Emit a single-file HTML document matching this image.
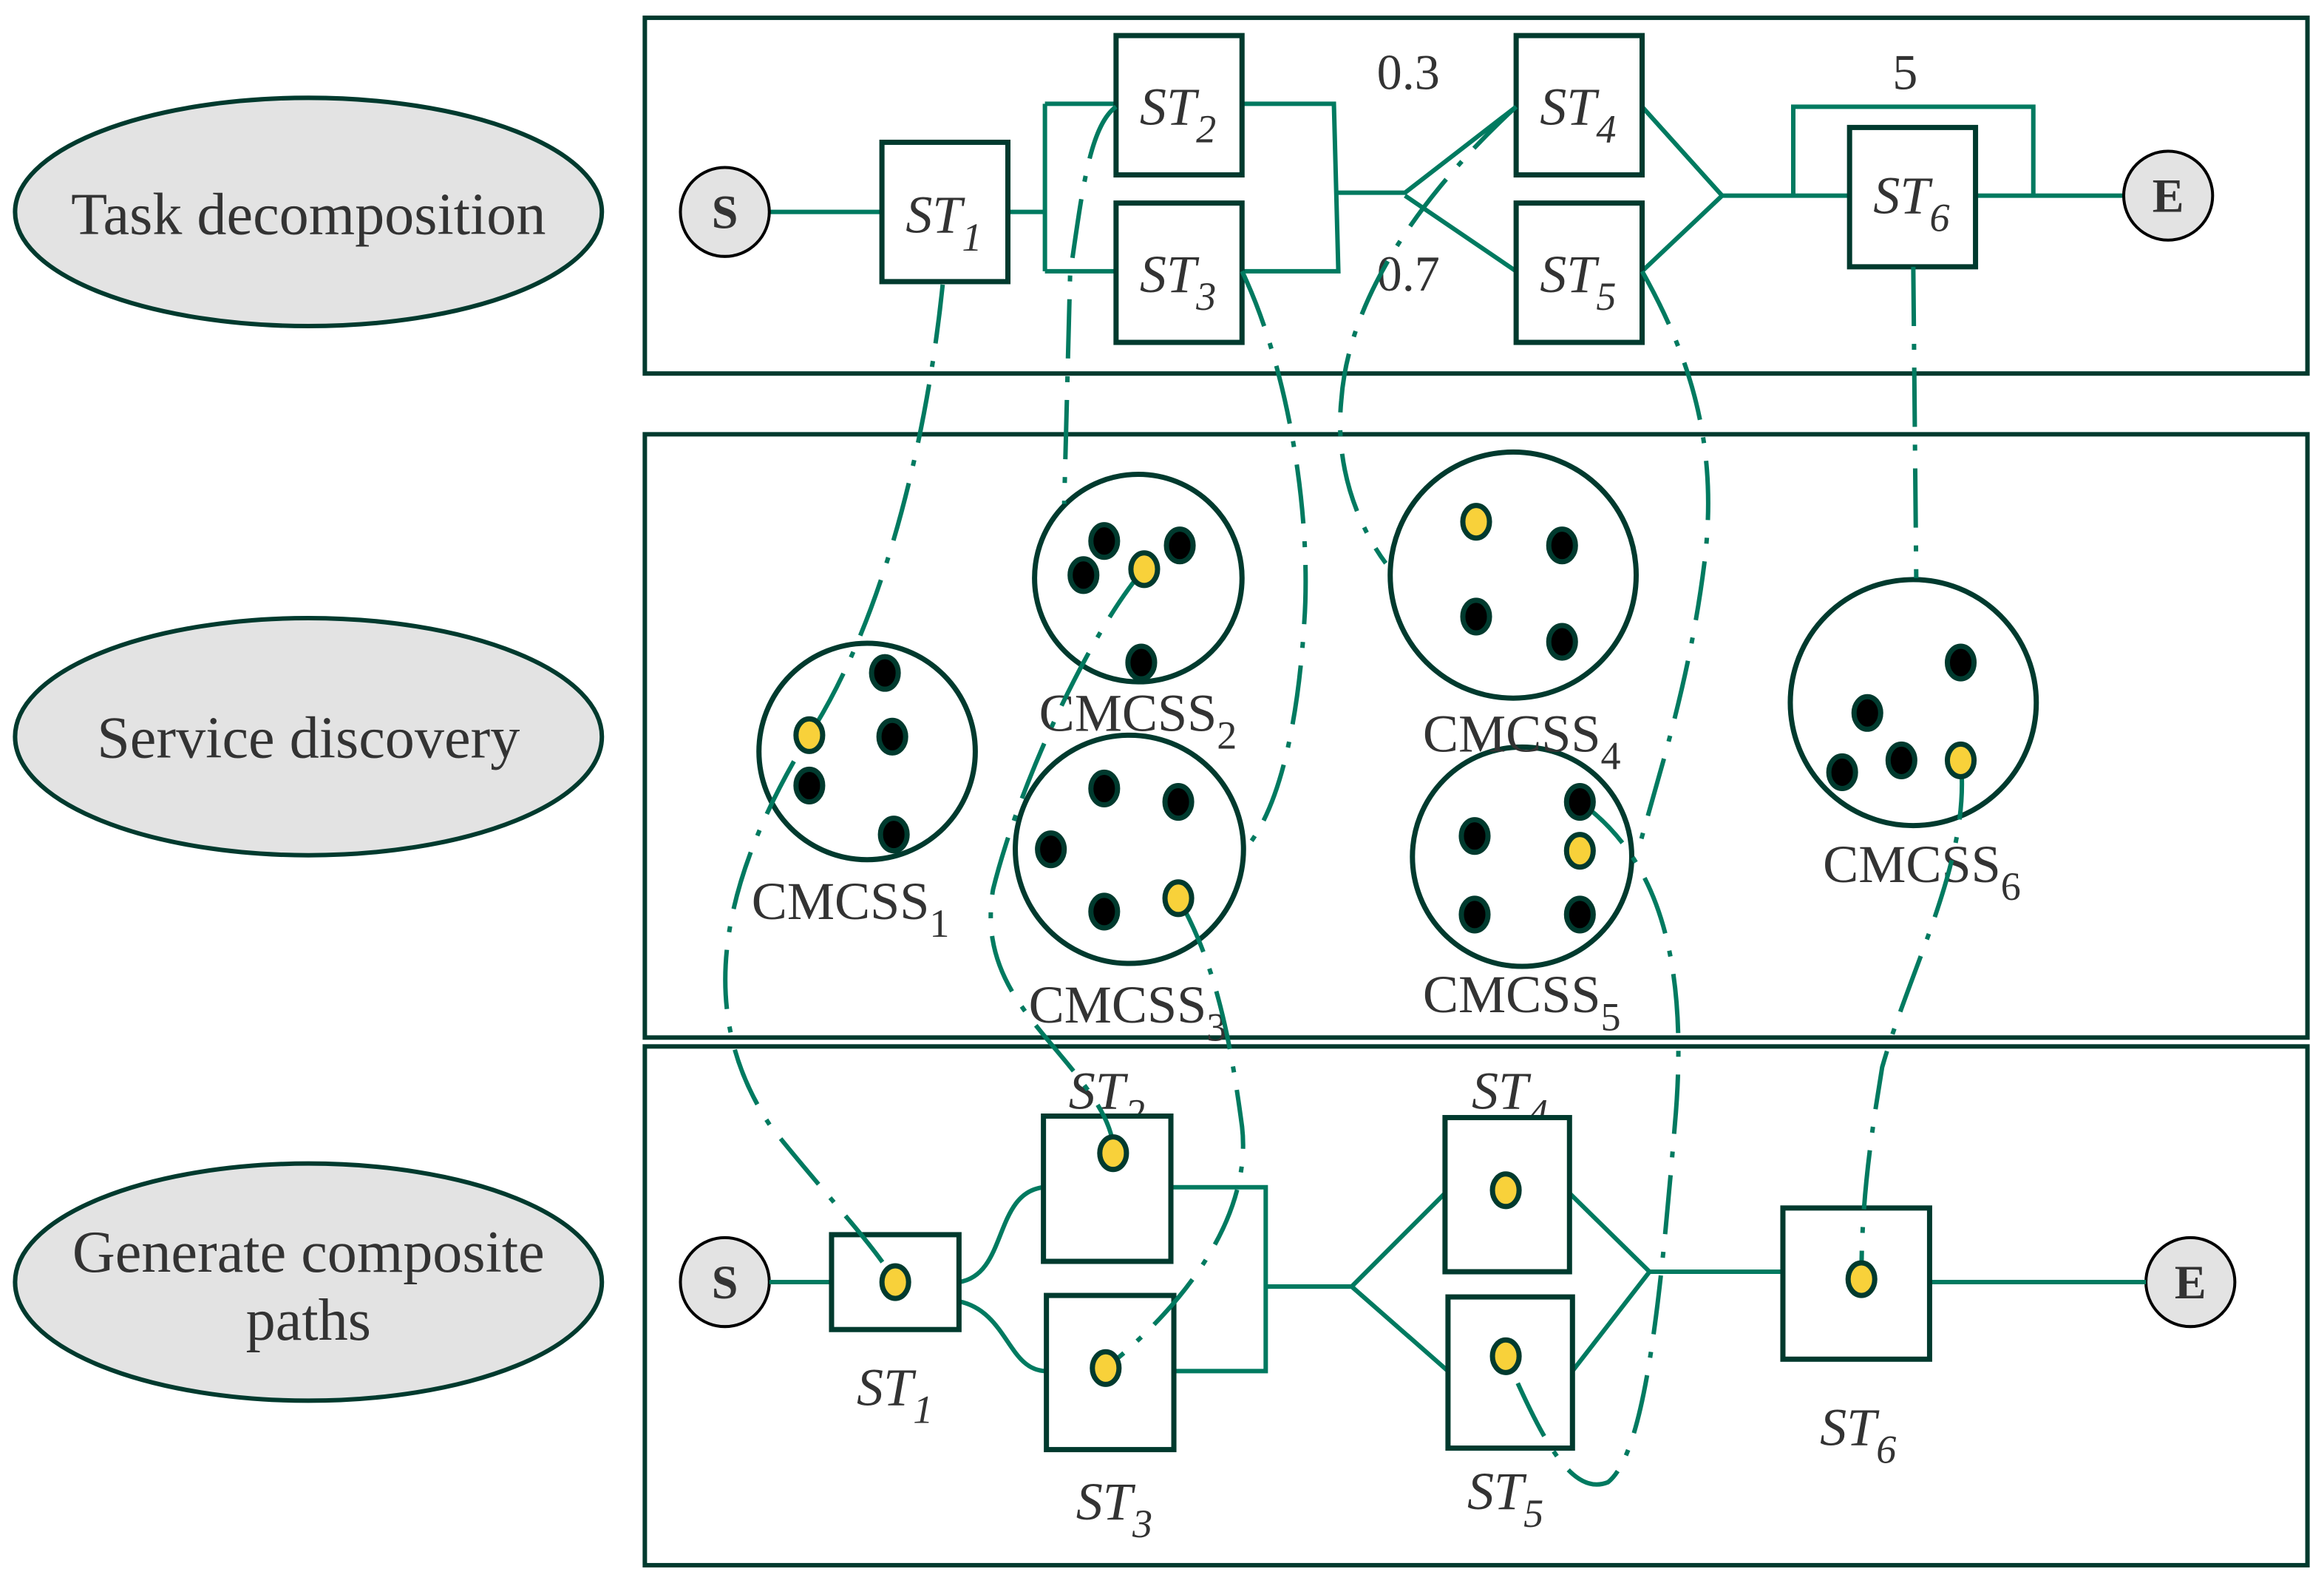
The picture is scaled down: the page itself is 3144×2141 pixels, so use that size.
<!DOCTYPE html>
<html><head><meta charset="utf-8"><style>
html,body{margin:0;padding:0;background:#fff;}
svg{display:block;}
text{font-family:"Liberation Serif",serif;fill:#333;}
.it{font-style:italic;}
</style></head><body>
<svg width="3144" height="2141" viewBox="0 0 1568 1068" xmlns="http://www.w3.org/2000/svg">
<g fill="#e3e3e3" stroke="#003a2e" stroke-width="3">
<ellipse cx="208" cy="143" rx="198" ry="77"/>
<ellipse cx="208" cy="497" rx="198" ry="80"/>
<ellipse cx="208" cy="865" rx="198" ry="80"/>
</g>
<g font-size="40" text-anchor="middle">
<text x="208" y="158">Task decomposition</text>
<text x="208" y="511">Service discovery</text>
<text x="208" y="858">Generate composite</text>
<text x="208" y="904">paths</text>
</g>
<g fill="none" stroke="#003a2e" stroke-width="3">
<rect x="435" y="12" width="1122" height="240"/>
<rect x="435" y="293" width="1122" height="407"/>
<rect x="435" y="706" width="1122" height="350"/>
</g>
<g fill="none" stroke="#007a60" stroke-width="3">
<path d="M519 143H595M680 143H705M705 70V183M705 70H753M705 183H753"/>
<path d="M838 70H900L903 183H838M902 130H948L1023 72M948 132L1023 183"/>
<path d="M1108 72L1162 132L1108 183M1162 132H1248M1210 132V72H1372V132M1333 132H1433"/>
</g>
<g fill="#fff" stroke="#003a2e" stroke-width="3.5">
<rect x="595" y="96" width="85" height="94"/>
<rect x="753" y="24" width="85" height="94"/>
<rect x="753" y="137" width="85" height="94"/>
<rect x="1023" y="24" width="85" height="94"/>
<rect x="1023" y="137" width="85" height="94"/>
<rect x="1248" y="86" width="85" height="94"/>
</g>
<g fill="#e3e3e3" stroke="#000" stroke-width="2">
<circle cx="489" cy="143" r="30"/><circle cx="1463" cy="132" r="30"/>
<circle cx="489" cy="865" r="30"/><circle cx="1478" cy="865" r="30"/>
</g>
<g font-size="32" font-weight="bold" text-anchor="middle" style="fill:#111">
<text x="489" y="154">S</text><text x="1463" y="143">E</text>
<text x="489" y="876">S</text><text x="1478" y="876">E</text>
</g>
<g font-size="36">
<text x="611" y="157" class="it">ST<tspan font-size="27" dy="12">1</tspan></text>
<text x="769" y="84" class="it">ST<tspan font-size="27" dy="12">2</tspan></text>
<text x="769" y="197" class="it">ST<tspan font-size="27" dy="12">3</tspan></text>
<text x="1039" y="84" class="it">ST<tspan font-size="27" dy="12">4</tspan></text>
<text x="1039" y="197" class="it">ST<tspan font-size="27" dy="12">5</tspan></text>
<text x="1264" y="144" class="it">ST<tspan font-size="27" dy="12">6</tspan></text>
<text x="721" y="748" class="it">ST<tspan font-size="27" dy="12">2</tspan></text>
<text x="578" y="948" class="it">ST<tspan font-size="27" dy="12">1</tspan></text>
<text x="726" y="1025" class="it">ST<tspan font-size="27" dy="12">3</tspan></text>
<text x="993" y="748" class="it">ST<tspan font-size="27" dy="12">4</tspan></text>
<text x="990" y="1018" class="it">ST<tspan font-size="27" dy="12">5</tspan></text>
<text x="1228" y="975" class="it">ST<tspan font-size="27" dy="12">6</tspan></text>
</g>
<g font-size="34">
<text x="929" y="60">0.3</text><text x="929" y="196">0.7</text><text x="1277" y="60">5</text>
</g>
<g fill="#fff" stroke="#003a2e" stroke-width="3.5">
<circle cx="585" cy="507" r="73"/><circle cx="768" cy="390" r="70"/>
<circle cx="762" cy="573" r="77"/><circle cx="1021" cy="388" r="83"/>
<circle cx="1027" cy="578" r="74"/><circle cx="1291" cy="474" r="83"/>
</g>
<g font-size="36">
<text x="507" y="620">CMCSS<tspan font-size="27" dy="12">1</tspan></text>
<text x="701" y="493">CMCSS<tspan font-size="27" dy="12">2</tspan></text>
<text x="694" y="690">CMCSS<tspan font-size="27" dy="12">3</tspan></text>
<text x="960" y="507">CMCSS<tspan font-size="27" dy="12">4</tspan></text>
<text x="960" y="683">CMCSS<tspan font-size="27" dy="12">5</tspan></text>
<text x="1230" y="595">CMCSS<tspan font-size="27" dy="12">6</tspan></text>
</g>
<g fill="none" stroke="#007a60" stroke-width="3">
<path d="M519 865H561M647 865C680 860 670 805 704 801M647 878C680 885 680 925 706 925"/>
<path d="M790 801H854V925H792M854 868H912L975 805M912 868L977 925"/>
<path d="M1059 805L1113 858L1061 925M1113 858H1203M1302 865H1448"/>
</g>
<g fill="#fff" stroke="#003a2e" stroke-width="3.5">
<rect x="561" y="833" width="86" height="64"/>
<rect x="704" y="753" width="86" height="98"/>
<rect x="706" y="874" width="86" height="104"/>
<rect x="975" y="754" width="84" height="104"/>
<rect x="977" y="875" width="84" height="102"/>
<rect x="1203" y="815" width="99" height="102"/>
</g>
<g fill="none" stroke="#007a60" stroke-width="3" stroke-dasharray="40,12,4,12">
<path d="M636 192C625 300 595 420 546 496C470 620 480 700 520 760C560 810 590 840 604 865"/>
<path d="M753 72C735 85 730 130 722 185L718 340"/>
<path d="M772 384C740 420 690 520 670 600C660 660 700 690 730 730C745 750 752 765 751 778"/>
<path d="M838 183C870 250 885 350 880 420C875 500 860 550 840 573"/>
<path d="M795 606C820 650 830 700 838 760C845 820 800 880 746 923"/>
<path d="M1023 72C960 130 910 200 905 270C900 320 920 360 935 380"/>
<path d="M1108 183C1140 240 1160 300 1150 380C1140 460 1120 520 1105 575"/>
<path d="M1066 541C1120 580 1140 650 1130 760C1120 880 1110 980 1085 1000C1060 1010 1040 970 1016 915"/>
<path d="M1291 180L1293 390"/>
<path d="M1323 513C1330 580 1290 650 1270 720C1260 780 1256 820 1256 863"/>
</g>
<g stroke="#003a2e" stroke-width="3.5" fill="#000">
<ellipse cx="597" cy="454" rx="9" ry="11"/><ellipse cx="602" cy="497" rx="9" ry="11"/>
<ellipse cx="546" cy="530" rx="9" ry="11"/><ellipse cx="603" cy="563" rx="9" ry="11"/>
<ellipse cx="745" cy="365" rx="9" ry="11"/><ellipse cx="731" cy="388" rx="9" ry="11"/>
<ellipse cx="796" cy="368" rx="9" ry="11"/><ellipse cx="770" cy="447" rx="9" ry="11"/>
<ellipse cx="745" cy="532" rx="9" ry="11"/><ellipse cx="795" cy="541" rx="9" ry="11"/>
<ellipse cx="709" cy="573" rx="9" ry="11"/><ellipse cx="745" cy="615" rx="9" ry="11"/>
<ellipse cx="1054" cy="368" rx="9" ry="11"/><ellipse cx="996" cy="416" rx="9" ry="11"/>
<ellipse cx="1054" cy="433" rx="9" ry="11"/>
<ellipse cx="1066" cy="541" rx="9" ry="11"/><ellipse cx="995" cy="564" rx="9" ry="11"/>
<ellipse cx="995" cy="617" rx="9" ry="11"/><ellipse cx="1066" cy="617" rx="9" ry="11"/>
<ellipse cx="1323" cy="447" rx="9" ry="11"/><ellipse cx="1260" cy="481" rx="9" ry="11"/>
<ellipse cx="1283" cy="513" rx="9" ry="11"/><ellipse cx="1243" cy="521" rx="9" ry="11"/>
</g>
<g stroke="#003a2e" stroke-width="3.5" fill="#f8d13a">
<ellipse cx="546" cy="496" rx="9" ry="11"/><ellipse cx="772" cy="384" rx="9" ry="11"/>
<ellipse cx="795" cy="606" rx="9" ry="11"/><ellipse cx="996" cy="352" rx="9" ry="11"/>
<ellipse cx="1066" cy="574" rx="9" ry="11"/><ellipse cx="1323" cy="513" rx="9" ry="11"/>
<ellipse cx="604" cy="865" rx="9" ry="11"/><ellipse cx="751" cy="778" rx="9" ry="11"/>
<ellipse cx="746" cy="923" rx="9" ry="11"/><ellipse cx="1016" cy="803" rx="9" ry="11"/>
<ellipse cx="1016" cy="915" rx="9" ry="11"/><ellipse cx="1256" cy="863" rx="9" ry="11"/>
</g>
</svg>
</body></html>
